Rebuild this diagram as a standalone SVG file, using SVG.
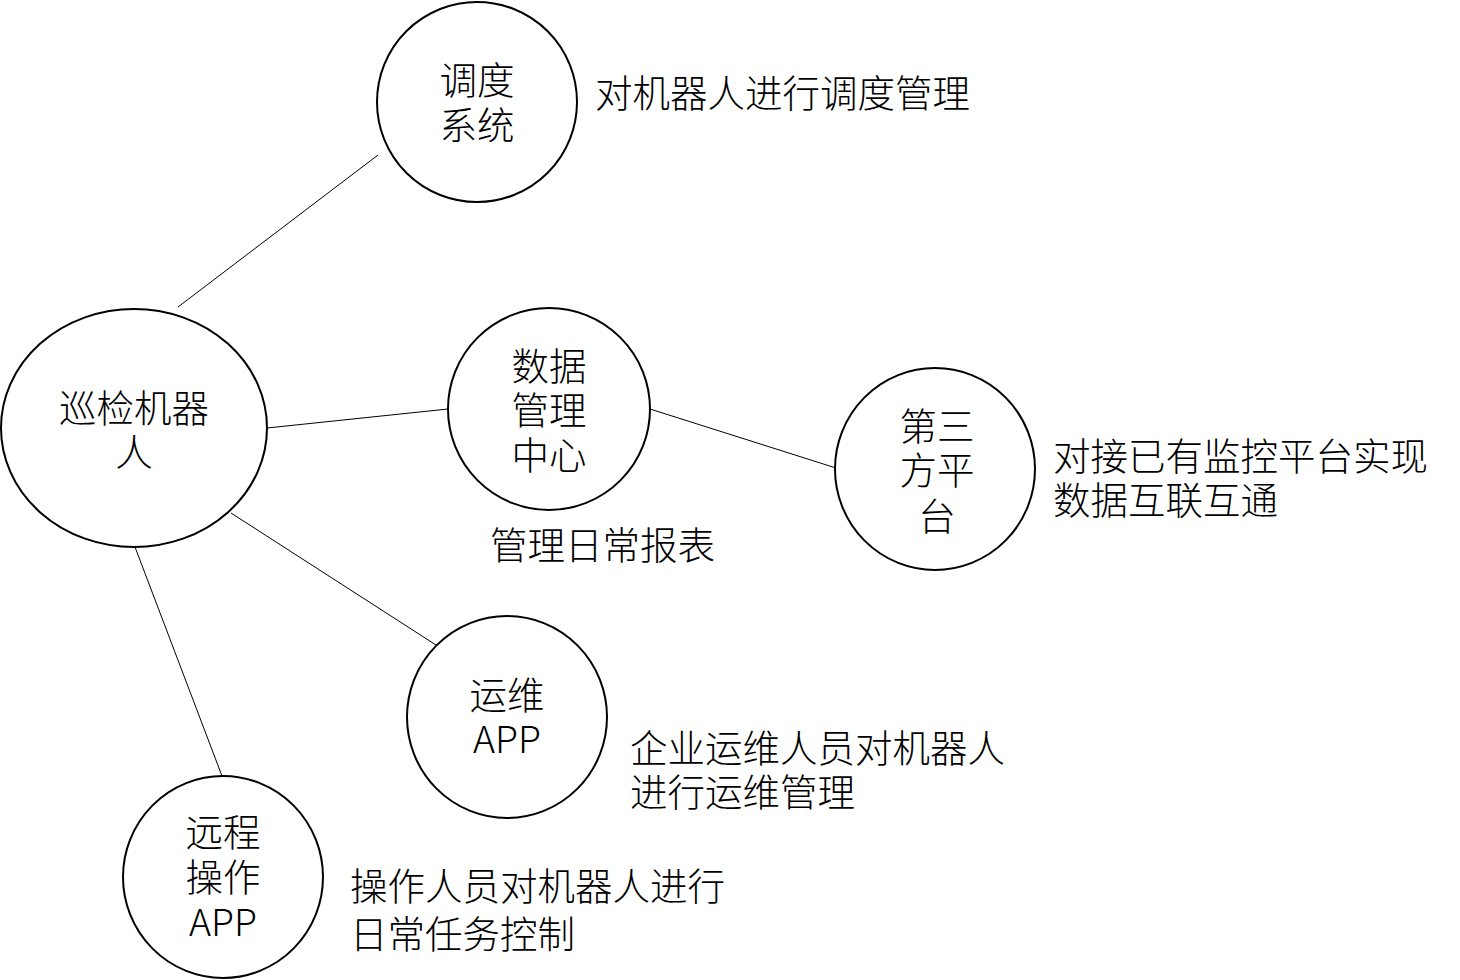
<svg xmlns="http://www.w3.org/2000/svg" width="1460" height="980" viewBox="0 0 1460 980">
<style>
.n{fill:#fff;stroke:#000;stroke-width:2}
.c{stroke:#000;stroke-width:1;fill:none}
text{font-family:"Noto Sans CJK SC","Noto Sans",sans-serif;font-size:37.5px;font-weight:300;fill:#000}
.m{text-anchor:middle}
</style>
<rect width="1460" height="980" fill="#fff"/>
<g id="connectors">
<line class="c" x1="178" y1="307" x2="378" y2="155"/>
<line class="c" x1="267" y1="428" x2="448" y2="409"/>
<line class="c" x1="650" y1="409" x2="836" y2="468"/>
<line class="c" x1="231" y1="513" x2="436" y2="645"/>
<line class="c" x1="135" y1="547" x2="222" y2="776"/>
</g>
<g id="robot">
<ellipse class="n" cx="134" cy="428" rx="133" ry="119"/>
<text class="m" x="134" y="422"><tspan x="134" y="422">巡检机器</tspan><tspan x="134" y="466">人</tspan></text>
</g>
<g id="dispatch">
<ellipse class="n" cx="477" cy="102" rx="100" ry="100"/>
<text class="m"><tspan x="477" y="94">调度</tspan><tspan x="477" y="139">系统</tspan></text>
</g>
<text x="595" y="107">对机器人进行调度管理</text>
<g id="datacenter">
<ellipse class="n" cx="549" cy="409" rx="101" ry="101"/>
<text class="m"><tspan x="549" y="380">数据</tspan><tspan x="549" y="424">管理</tspan><tspan x="549" y="469">中心</tspan></text>
</g>
<text x="490" y="559">管理日常报表</text>
<g id="thirdparty">
<ellipse class="n" cx="935" cy="469" rx="100" ry="101"/>
<text class="m"><tspan x="937" y="440">第三</tspan><tspan x="937" y="484">方平</tspan><tspan x="937" y="530">台</tspan></text>
</g>
<text><tspan x="1053" y="470">对接已有监控平台实现</tspan><tspan x="1053" y="514">数据互联互通</tspan></text>
<g id="opsapp">
<ellipse class="n" cx="507" cy="717" rx="100" ry="101"/>
<text class="m"><tspan x="507" y="709">运维</tspan><tspan x="507" y="753">APP</tspan></text>
</g>
<text><tspan x="630" y="762">企业运维人员对机器人</tspan><tspan x="630" y="806">进行运维管理</tspan></text>
<g id="remoteapp">
<ellipse class="n" cx="223" cy="877" rx="100" ry="101"/>
<text class="m"><tspan x="223" y="846">远程</tspan><tspan x="223" y="891">操作</tspan><tspan x="223" y="936">APP</tspan></text>
</g>
<text><tspan x="350" y="900">操作人员对机器人进行</tspan><tspan x="350" y="948">日常任务控制</tspan></text>
</svg>
